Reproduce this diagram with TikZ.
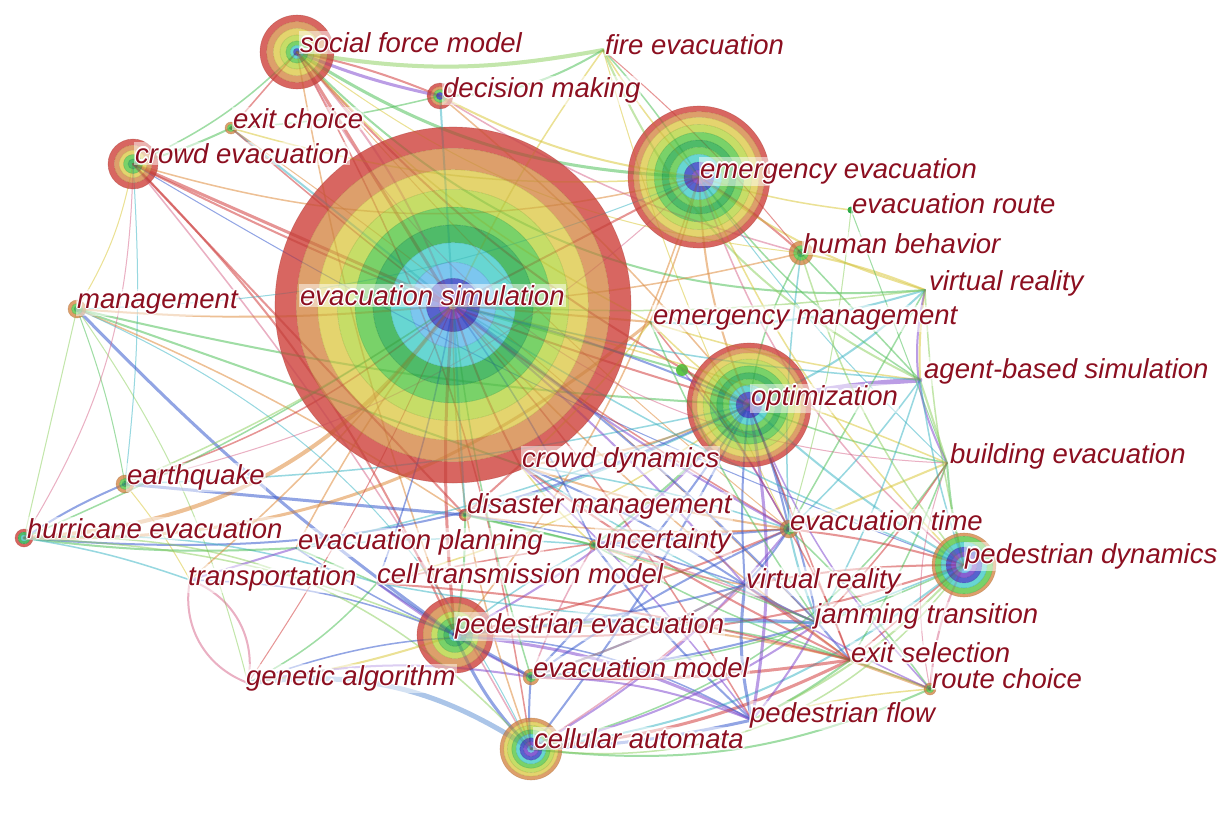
\documentclass[tikz,border=0pt]{standalone}
\usepackage{fontspec}
\setmainfont{Liberation Sans}
\usepackage[copies]{contour}
\contourlength{1.1pt}
\contournumber{16}
\definecolor{labc}{RGB}{140,15,32}
\definecolor{cR}{RGB}{208,68,62}
\definecolor{cO}{RGB}{214,138,74}
\definecolor{cY}{RGB}{222,202,78}
\definecolor{cYG}{RGB}{186,214,70}
\definecolor{cG}{RGB}{92,200,72}
\definecolor{cDG}{RGB}{40,172,72}
\definecolor{cC}{RGB}{70,205,200}
\definecolor{cLB}{RGB}{95,185,235}
\definecolor{cB}{RGB}{50,65,195}
\definecolor{cP}{RGB}{110,60,200}
\definecolor{eR}{RGB}{232,80,80}
\definecolor{eO}{RGB}{245,160,80}
\definecolor{eY}{RGB}{240,222,80}
\definecolor{eG}{RGB}{100,215,110}
\definecolor{eL}{RGB}{165,232,120}
\definecolor{eC}{RGB}{85,205,220}
\definecolor{eB}{RGB}{75,110,228}
\definecolor{eP}{RGB}{150,95,230}
\definecolor{eK}{RGB}{238,130,165}
\definecolor{eS}{RGB}{120,170,235}
\newcommand\ringset[3]{%
  \foreach \ro/\ri/\rc in #3 {%
    \fill[\rc, fill opacity=.82, even odd rule] (#1) circle ({#2*\ro}) (#1) circle ({#2*\ri});
    \draw[\rc!75!black, draw opacity=.35, line width=.6bp] (#1) circle ({#2*\ro});
  }}
\def\pBig{1/.88/cR,.88/.76/cO,.76/.65/cY,.65/.55/cYG,.55/.45/cG,.45/.35/cDG,.35/.24/cC,.24/.15/cLB,.15/.08/cB,.08/.025/cP,.025/0/white}
\def\pEE{1/.92/cR,.92/.84/cO,.84/.74/cY,.74/.63/cYG,.63/.52/cG,.52/.42/cDG,.42/.32/cG,.32/.21/cC,.21/.1/cB,.1/0/cP}
\def\pSF{1/.82/cR,.82/.64/cO,.64/.46/cY,.46/.3/cYG,.3/.18/cG,.18/.1/cC,.1/0/cB}
\def\pCE{1/.75/cR,.75/.55/cO,.55/.38/cY,.38/.2/cG,.2/0/cDG}
\def\pPE{1/.84/cR,.84/.62/cO,.62/.46/cYG,.46/.3/cG,.3/.16/cDG,.16/.07/cC,.07/0/cB}
\def\pCA{1/.88/cO,.88/.76/cY,.76/.62/cYG,.62/.48/cG,.48/.36/cC,.36/.24/cB,.24/.12/cP,.12/0/cLB}
\def\pPD{1/.9/cO,.9/.72/cG,.72/.56/cC,.56/.4/cB,.4/.25/cP,.25/0/cLB}
\def\pSm{1/.62/cO,.62/.32/cG,.32/0/cDG}
\def\pDM{1/.72/cR,.72/.5/cO,.5/.28/cG,.28/0/cB}
\def\pHE{1/.66/cR,.66/.36/cDG,.36/0/cC}
\def\edgelist{%
SF/ES/eR/3/0, SF/ES/eK/2/10, SF/DM/eP/3/-5, SF/DM/eR/2/5, SF/EE/eG/3/-15, SF/FE/eL/4/-10,
SF/CE/eG/1.5/10, SF/XC/eR/1.5/0, SF/OP/eR/2/-10, SF/PE/eO/1.5/-5, SF/CA/eR/1.5/10, SF/EMG/eY/1.5/-10,
SF/HB/eY/1/-15, SF/ET/eO/1/-5, DM/ES/eC/2/0, DM/EE/eY/2/-10, DM/FE/eG/2/-15, DM/OP/eO/1.5/5,
DM/HB/eK/1.5/-8, CE/ES/eR/3/0, CE/XC/eG/2/-5, CE/MG/eY/1/10, CE/PE/eR/2/10, CE/DIS/eR/2/0,
CE/CA/eK/1.5/5, CE/EE/eO/1.5/-15, CE/OP/eR/2/-5, CE/EQ/eC/1/5, CE/PD/eB/1/-5, XC/ES/eC/2/0,
XC/DM/eG/1.5/-5, XC/EE/eY/1.5/-10, XC/ET/eR/1.5/-5, XC/JT/eO/1/5, MG/ES/eO/2/-5, MG/PE/eB/3/-5,
MG/OP/eG/2/-5, MG/EQ/eG/1/5, MG/HE/eL/1/0, MG/CD/eG/2/0, MG/DIS/eO/1.5/5, MG/EE/eC/1/-10,
MG/GA/eL/1/10, EQ/ES/eR/1.5/-10, EQ/EE/eK/1/-15, EQ/DIS/eB/3/0, EQ/HE/eB/2/-5, EQ/OP/eC/1.5/-5,
EQ/TR/eY/1/5, HE/ES/eO/4/-25, HE/OP/eB/2/-15, HE/EMG/eO/3/-20, HE/CTM/eC/1.5/10, HE/EP/eG/2/-5,
HE/TR/eC/1.5/5, HE/PE/eL/1.5/10, TR/GA/eK/2/40, TR/GA/eK/2/-40, TR/PE/eB/1.5/10, TR/EP/eP/2/0,
TR/ES/eO/1.5/-5, GA/CA/eS/5/20, GA/PE/eY/2/-5, GA/CTM/eG/1.5/-10, GA/EM/eP/2/10, GA/ES/eR/1/-5,
EP/PE/eB/1.5/-5, EP/ES/eO/1.5/5, EP/OP/eC/1.5/-5, EP/CTM/eG/1.5/0, EP/UN/eC/1.5/5, CTM/PE/eB/2/0,
CTM/EM/eP/2/-5, CTM/OP/eY/1.5/-10, CTM/ET/eR/1.5/5, PE/ES/eR/3/5, PE/CA/eB/3/-10, PE/EM/eB/3/0,
PE/OP/eP/2/-10, PE/ET/eR/2/-5, PE/JT/eB/3/5, PE/PD/eR/2/-10, PE/XS/eO/2/10, PE/PF/eP/3/10,
PE/RC/eG/1.5/15, PE/EE/eO/1.5/-10, CA/PF/eB/3/-5, CA/XS/eR/3/-10, CA/JT/eP/2/-10, CA/PD/eC/2/-15,
CA/RC/eG/2/-15, CA/EM/eB/2/5, CA/ET/eP/2/-10, CA/OP/eB/2/-5, CA/ES/eO/1.5/10, CA/VR2/eK/1.5/-5,
CA/BE/eG/1.5/-20, EM/OP/eB/2/-5, EM/XS/eR/3/-5, EM/PF/eP/2/10, EM/JT/eB/2/-5, EM/PD/eG/1.5/-10,
EM/UN/eK/1.5/5, OP/ABS/eP/5/5, OP/ET/eB/2/5, OP/BE/eG/1.5/-5, OP/EE/eO/2/10, OP/EMG/eY/1.5/5,
OP/HB/eG/1.5/10, OP/VR1/eC/2/-10, OP/PD/eC/2/-5, OP/JT/eB/2/5, OP/PF/eP/3/10, OP/XS/eR/1.5/0,
OP/UN/eG/2/5, OP/CD/eO/2/10, OP/GD/eG/2/0, EE/HB/eR/2/5, EE/ER/eY/1.5/-5, EE/VR1/eY/2/-10,
EE/EMG/eO/1.5/5, EE/ABS/eG/1.5/-10, EE/BE/eC/1/-5, EE/ES/eR/2/0, EE/PD/eK/1.5/-15, EE/FE/eY/1.5/5,
HB/VR1/eY/2/5, HB/ABS/eG/1.5/0, HB/ET/eC/1.5/-5, ER/BE/eG/1/0, ER/ET/eL/1/5, VR1/ABS/eY/2/-5,
VR1/BE/eP/2/-20, VR1/EMG/eC/2/10, VR1/ET/eG/1.5/0, ABS/BE/eL/2/0, ABS/ET/eC/1.5/5, ABS/EMG/eY/1.5/5,
BE/ET/eY/2/0, BE/PD/eG/2/-5, BE/RC/eK/1/-15, BE/JT/eR/1.5/5, ET/PD/eR/2/5, ET/VR2/eB/2/5,
ET/JT/eC/2/-5, ET/RC/eG/1.5/5, ET/XS/eR/1.5/5, ET/UN/eB/2/0, ET/CD/eO/2/5, PD/JT/eC/1.5/0,
PD/RC/eK/2/-10, PD/XS/eR/1.5/0, PD/VR2/eR/2/-5, JT/XS/eB/2/0, JT/PF/eP/2/5, JT/VR2/eC/2/5,
XS/RC/eO/3/0, XS/PF/eG/2/5, RC/PF/eY/1.5/-5, RC/VR2/eP/1.5/5, PF/VR2/eB/3/10, UN/DIS/eG/2/0,
UN/CD/eY/1.5/5, UN/VR2/eO/1.5/-5, DIS/CD/eR/2/0, DIS/PE/eG/2/5, DIS/OP/eC/1.5/-5, CD/ES/eR/2/5,
CD/VR2/eB/2/5, CD/JT/eC/1.5/-5, FE/EE/eG/1.5/5, FE/ES/eY/1.5/-5, FE/HB/eR/1/5, FE/ET/eY/1/-5,
GD/ES/eG/2/0, EMG/ES/eO/2/0, EMG/ET/eR/1.5/5, SF/VR1/eG/2/-25, FE/ABS/eL/2/-20, HE/CA/eL/1.5/25,
GA/PF/eB/1.5/25, CA/PD/eL/1.5/-30, MG/CA/eC/1/20, CE/HE/eK/1/15, SF/BE/eK/1/-30,
ES/OP/eB/2/5, ES/ET/eP/2/-5, ES/JT/eB/2/5, ES/PF/eR/1.5/5, ES/XS/eO/1.5/-5, ES/PD/eC/1.5/-5,
ES/DIS/eC/2/0, ES/UN/eB/1.5/5, ES/VR2/eP/2/5, ES/EM/eG/1.5/-5, ES/BE/eY/1.5/5, ES/ABS/eC/1.5/-5,
ES/HB/eO/1.5/-5, ES/VR1/eL/1.5/-5, ES/CTM/eB/1.5/5, ES/EQ/eL/1.5/5, ES/HE/eG/1.5/5,
VR2/XS/eR/2/0, VR2/JT/eP/2/-5, VR2/EM/eC/2/5, UN/XS/eG/1.5/-5, UN/JT/eK/1.5/5, UN/PF/eB/2/-5,
DIS/ET/eO/1.5/-5, DIS/VR2/eB/1.5/5, DIS/JT/eG/1.5/5, CD/XS/eR/2/-5, CD/PF/eP/1.5/5, CD/ET/eC/1.5/5,
EM/ET/eB/2/5, EM/VR2/eK/2/-5, CTM/XS/eR/2/5, CTM/JT/eC/1.5/-5, PE/VR2/eB/2/-5, PE/UN/eC/1.5/5,
OP/VR2/eB/2/-5, OP/RC/eP/1.5/-10, PD/PF/eL/2/10, PD/ABS/eC/1.5/5, PD/EE/eY/1.5/10, BE/XS/eG/1.5/5,
ABS/JT/eC/1.5/5, VR1/PD/eL/1.5/-5, EMG/JT/eG/1.5/-5, EMG/CD/eY/1.5/5, GD/ET/eP/1.5/5, HB/PD/eL/1.5/-10}
\tikzset{
  kw/.style={inner sep=0pt, minimum size=0pt},
  lab/.style={anchor=base west, inner sep=1bp, text=labc, fill=white, fill opacity=.5, text opacity=1,
    font=\fontsize{27.6}{30}\selectfont\itshape},
  edge/.style={draw opacity=.5, line cap=round},
  overedge/.style={draw opacity=.16, line cap=round}
}
\begin{document}
\begin{tikzpicture}[x=1bp,y=-1bp]
\useasboundingbox (0,0) rectangle (1225,826);
% ---------- keyword nodes ----------
\node[kw] (ES) at (453,305) {};
\node[kw] (EE) at (699,177) {};
\node[kw] (OP) at (749,405) {};
\node[kw] (SF) at (297,52) {};
\node[kw] (CE) at (133,164) {};
\node[kw] (DM) at (440,96) {};
\node[kw] (XC) at (231,128) {};
\node[kw] (MG) at (77,309) {};
\node[kw] (EQ) at (125,484) {};
\node[kw] (HE) at (24,538) {};
\node[kw] (PE) at (455,635) {};
\node[kw] (CA) at (531,749) {};
\node[kw] (PD) at (964,565) {};
\node[kw] (EM) at (531,677) {};
\node[kw] (HB) at (801,253) {};
\node[kw] (ER) at (851,210) {};
\node[kw] (DIS) at (465,515) {};
\node[kw] (UN) at (594,545) {};
\node[kw] (ET) at (789,529) {};
\node[kw] (RC) at (930,689) {};
\node[kw] (GD) at (682,370) {};
\node[kw] (FE) at (603,50) {};
\node[kw] (VR1) at (925,290) {};
\node[kw] (EMG) at (650,322) {};
\node[kw] (ABS) at (920,380) {};
\node[kw] (BE) at (947,463) {};
\node[kw] (CD) at (520,465) {};
\node[kw] (EP) at (296,548) {};
\node[kw] (TR) at (190,580) {};
\node[kw] (CTM) at (377,583) {};
\node[kw] (VR2) at (745,585) {};
\node[kw] (JT) at (818,623) {};
\node[kw] (XS) at (850,660) {};
\node[kw] (GA) at (248,683) {};
\node[kw] (PF) at (752,720) {};
% ---------- co-occurrence links ----------
\foreach \a/\b/\c/\w/\bd in \edgelist
  \draw[edge, \c, line width=\w bp] (\a) to[bend left=\bd] (\b);
% ---------- citation rings ----------
\ringset{ES}{178}{\pBig}
\ringset{EE}{71}{\pEE}
\ringset{OP}{62}{\pEE}
\ringset{SF}{37}{\pSF}
\ringset{CE}{25}{\pCE}
\ringset{PE}{38}{\pPE}
\ringset{CA}{31}{\pCA}
\ringset{PD}{32}{\pPD}
\ringset{DM}{13}{\pDM}
\ringset{HB}{12}{\pSm}
\ringset{XC}{6}{\pSm}
\ringset{MG}{9}{\pSm}
\ringset{EQ}{9}{\pSm}
\ringset{HE}{9}{\pHE}
\ringset{EM}{8}{\pSm}
\ringset{ET}{9}{\pSm}
\ringset{RC}{6}{\pSm}
\ringset{DIS}{6}{\pCE}
\ringset{UN}{5}{\pSm}
\fill[cG] (GD) circle (6);
\fill[cDG] (ER) circle (3.5);
% links shimmering through the rings
\foreach \a/\b/\c/\w/\bd in \edgelist
  \draw[overedge, \c!70!black, line width=\w bp] (\a) to[bend left=\bd] (\b);
% ---------- labels ----------
\node[lab] (SFl) at (299,52) {\contour{white}{social force model}};
\node[lab] (FEl) at (604,54) {\contour{white}{fire evacuation}};
\node[lab] (DMl) at (442,97) {\contour{white}{decision making}};
\node[lab] (XCl) at (232,128) {\contour{white}{exit choice}};
\node[lab] (CEl) at (134,163) {\contour{white}{crowd evacuation}};
\node[lab] (EEl) at (699,178) {\contour{white}{emergency evacuation}};
\node[lab] (ERl) at (851,213) {\contour{white}{evacuation route}};
\node[lab] (HBl) at (802,253) {\contour{white}{human behavior}};
\node[lab] (VR1l) at (928,290) {\contour{white}{virtual reality}};
\node[lab] (MGl) at (76,308) {\contour{white}{management}};
\node[lab] (ESl) at (299,305) {\contour{white}{evacuation simulation}};
\node[lab] (EMGl) at (652,324) {\contour{white}{emergency management}};
\node[lab] (ABSl) at (923,378) {\contour{white}{agent-based simulation}};
\node[lab] (OPl) at (750,405) {\contour{white}{optimization}};
\node[lab] (BEl) at (949,463) {\contour{white}{building evacuation}};
\node[lab] (CDl) at (521,467) {\contour{white}{crowd dynamics}};
\node[lab] (EQl) at (126,484) {\contour{white}{earthquake}};
\node[lab] (DISl) at (466,513) {\contour{white}{disaster management}};
\node[lab] (HEl) at (26,538) {\contour{white}{hurricane evacuation}};
\node[lab] (ETl) at (789,530) {\contour{white}{evacuation time}};
\node[lab] (EPl) at (297,549) {\contour{white}{evacuation planning}};
\node[lab] (UNl) at (595,548) {\contour{white}{uncertainty}};
\node[lab] (PDl) at (964,563) {\contour{white}{pedestrian dynamics}};
\node[lab] (TRl) at (187,585) {\contour{white}{transportation}};
\node[lab] (CTMl) at (376,583) {\contour{white}{cell transmission model}};
\node[lab] (VR2l) at (745,588) {\contour{white}{virtual reality}};
\node[lab] (JTl) at (814,623) {\contour{white}{jamming transition}};
\node[lab] (PEl) at (454,633) {\contour{white}{pedestrian evacuation}};
\node[lab] (XSl) at (850,662) {\contour{white}{exit selection}};
\node[lab] (GAl) at (245,685) {\contour{white}{genetic algorithm}};
\node[lab] (EMl) at (532,677) {\contour{white}{evacuation model}};
\node[lab] (RCl) at (931,688) {\contour{white}{route choice}};
\node[lab] (PFl) at (749,722) {\contour{white}{pedestrian flow}};
\node[lab] (CAl) at (533,748) {\contour{white}{cellular automata}};
\end{tikzpicture}
\end{document}
